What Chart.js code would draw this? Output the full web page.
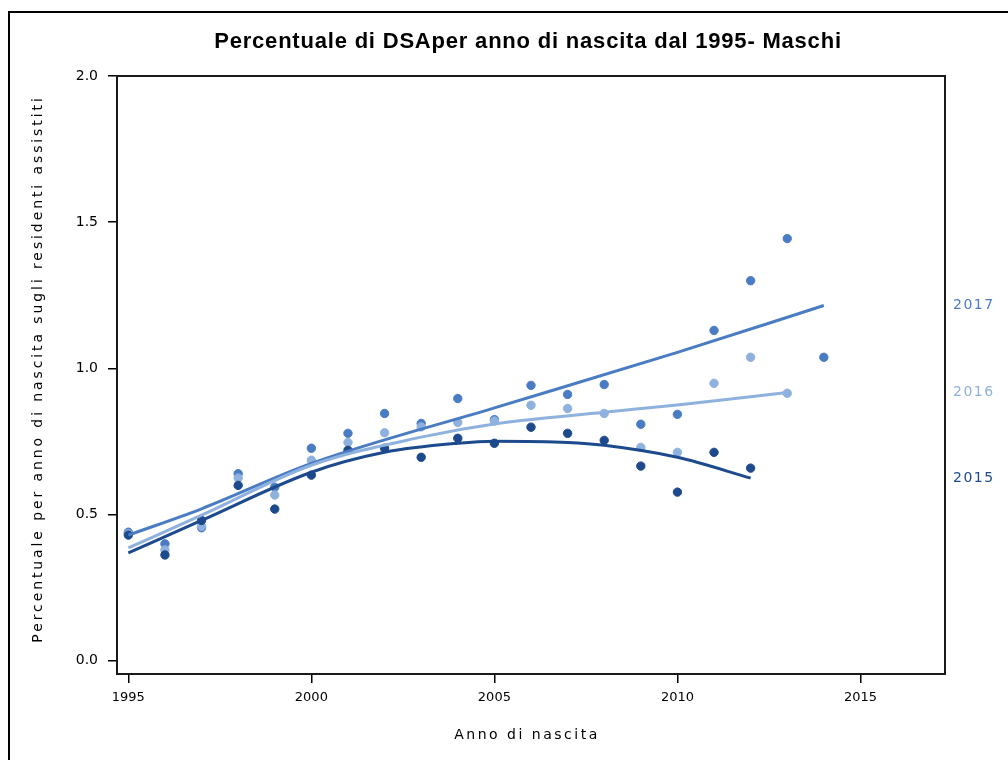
<!DOCTYPE html>
<html>
<head>
<meta charset="utf-8">
<script src="https://cdn.jsdelivr.net/npm/chart.js@4/dist/chart.umd.min.js"></script>
<style>
  html, body { margin: 0; padding: 0; background: #fff; }
  #wrap { width: 1008px; height: 760px; }
</style>
</head>
<body>
<div id="wrap"><canvas id="c" width="1008" height="760"></canvas></div>
<script>
// ---- data ----
const titleText = "Percentuale di DSAper anno di nascita dal 1995- Maschi";
const xTitle = "Anno di nascita";
const yTitle = "Percentuale per anno di nascita sugli residenti assistiti";

const seriesNames = ["2015", "2016", "2017"];

const years2015 = [1995,1996,1997,1998,1999,2000,2001,2002,2003,2004,2005,2006,2007,2008,2009,2010,2011,2012];
const values2015 = [0.43,0.362,0.48,0.60,0.519,0.635,0.72,0.727,0.696,0.761,0.744,0.799,0.778,0.754,0.666,0.577,0.713,0.659];

const years2016 = [1995,1996,1997,1998,1999,2000,2001,2002,2003,2004,2005,2006,2007,2008,2009,2010,2011,2012,2013];
const values2016 = [0.435,0.379,0.46,0.625,0.567,0.686,0.747,0.78,0.80,0.815,0.82,0.874,0.863,0.846,0.73,0.713,0.949,1.038,0.915];

const years2017 = [1995,1996,1997,1998,1999,2000,2001,2002,2003,2004,2005,2006,2007,2008,2009,2010,2011,2012,2013,2014];
const values2017 = [0.44,0.40,0.455,0.64,0.594,0.727,0.778,0.846,0.812,0.897,0.825,0.942,0.911,0.945,0.809,0.843,1.13,1.30,1.444,1.038];

// fitted curves
const fitYears2015 = [1995,1997,2000,2002,2004,2005,2007,2008,2010,2012];
const fitValues2015 = [0.369,0.48,0.645,0.713,0.744,0.751,0.747,0.737,0.696,0.625];
const fitYears2016 = [1995,1997,2000,2003,2005,2008,2010,2013];
const fitValues2016 = [0.386,0.498,0.669,0.765,0.81,0.85,0.875,0.918];
const fitYears2017 = [1995,1997,2000,2005,2010,2014];
const fitValues2017 = [0.43,0.52,0.675,0.865,1.055,1.215];

const xTicks = [1995,2000,2005,2010,2015];
const yTicks = [0.0,0.5,1.0,1.5,2.0];

// ---- styles ----
const colors = ["#1d4a8c", "#8fb1de", "#4a7cc3"];

function pts(xs, ys) { return xs.map((x, i) => ({ x: x, y: ys[i] })); }

const pointSets = [pts(years2015, values2015), pts(years2016, values2016), pts(years2017, values2017)];
const fitSets = [pts(fitYears2015, fitValues2015), pts(fitYears2016, fitValues2016), pts(fitYears2017, fitValues2017)];

const datasets = [];
[0, 1, 2].forEach(i => {
  datasets.push({
    label: seriesNames[i] + " dati",
    data: pointSets[i],
    showLine: false,
    pointRadius: 4.2,
    pointHoverRadius: 4.2,
    pointStyle: 'circle',
    pointBackgroundColor: colors[i],
    pointBorderColor: colors[i],
    order: 2
  });
});
[0, 1, 2].forEach(i => {
  datasets.push({
    label: seriesNames[i],
    data: fitSets[i],
    showLine: true,
    borderColor: colors[i],
    borderWidth: 3,
    pointRadius: 0,
    cubicInterpolationMode: 'monotone',
    fill: false,
    order: 1
  });
});

const decor = {
  id: 'decor',
  afterDraw(chart) {
    const ctx = chart.ctx, a = chart.chartArea, ys = chart.scales.y;
    ctx.save();
    // outer frame
    ctx.strokeStyle = '#000';
    ctx.lineWidth = 2;
    ctx.strokeRect(9, 12, 1100, 1000);
    // plot frame
    ctx.strokeStyle = '#1a1a1a';
    ctx.lineWidth = 2;
    ctx.strokeRect(a.left, a.top, a.right - a.left, a.bottom - a.top);
    // title
    ctx.fillStyle = '#000';
    ctx.textAlign = 'center';
    ctx.textBaseline = 'middle';
    ctx.font = 'bold 22px "Liberation Sans"';
    ctx.letterSpacing = '0.8px';
    ctx.fillText(titleText, 528, 42);
    // x title
    ctx.font = '14px "DejaVu Sans"';
    ctx.letterSpacing = '2.5px';
    ctx.fillText(xTitle, 527, 735);
    // y title
    ctx.save();
    ctx.translate(38, 369);
    ctx.rotate(-Math.PI / 2);
    ctx.letterSpacing = '2.9px';
    ctx.fillText(yTitle, 0, 0);
    ctx.restore();
    // curve end labels
    ctx.letterSpacing = '1.5px';
    ctx.textAlign = 'left';
    ctx.font = '14px "DejaVu Sans"';
    fitSets.forEach((s, i) => {
      const last = s[s.length - 1];
      ctx.fillStyle = colors[i];
      ctx.fillText(seriesNames[i], a.right + 8, ys.getPixelForValue(last.y));
    });
    ctx.restore();
  }
};

Chart.defaults.font.family = '"DejaVu Sans"';
Chart.defaults.color = '#000';

new Chart(document.getElementById('c'), {
  type: 'scatter',
  data: { datasets: datasets },
  options: {
    responsive: false,
    animation: false,
    events: [],
    layout: { padding: { left: 0, right: 63, top: 76, bottom: 0 } },
    plugins: { legend: { display: false }, title: { display: false }, tooltip: { enabled: false } },
    scales: {
      x: {
        type: 'linear',
        min: 1994.69,
        max: 2017.31,
        afterBuildTicks: s => { s.ticks = xTicks.map(v => ({ value: v })); },
        afterFit: s => { s.height = 86; },
        ticks: { callback: v => String(v), font: { size: 13 }, color: '#000', padding: 7, maxRotation: 0, autoSkip: false },
        grid: { drawOnChartArea: false, drawTicks: true, tickLength: 9, color: '#000', lineWidth: 1.5 },
        border: { display: true, color: '#1a1a1a', width: 2 }
      },
      y: {
        type: 'linear',
        min: -0.045,
        max: 2.0,
        afterBuildTicks: s => { s.ticks = yTicks.map(v => ({ value: v })); },
        afterFit: s => { s.width = 117; },
        ticks: { callback: v => Number(v).toFixed(1), font: { size: 14 }, color: '#000', padding: 10, autoSkip: false },
        grid: { drawOnChartArea: false, drawTicks: true, tickLength: 9, color: '#000', lineWidth: 1.5 },
        border: { display: true, color: '#1a1a1a', width: 2 }
      }
    }
  },
  plugins: [decor]
});
</script>
</body>
</html>
